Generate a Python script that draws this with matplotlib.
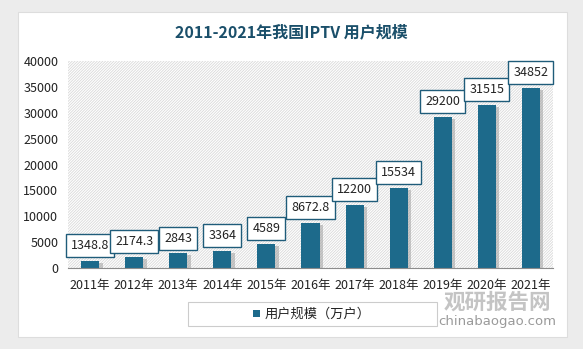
import matplotlib.pyplot as plt
import matplotlib.patheffects as pe
from matplotlib.patches import Rectangle

plt.rcParams['font.family'] = ['Noto Sans CJK SC', 'DejaVu Sans']
plt.rcParams['hatch.linewidth'] = 0.6
plt.rcParams['hatch.color'] = '#d9d9d9'

years = ['2011年', '2012年', '2013年', '2014年', '2015年', '2016年',
         '2017年', '2018年', '2019年', '2020年', '2021年']
users = [1348.8, 2174.3, 2843, 3364, 4589, 8672.8, 12200, 15534, 29200, 31515, 34852]
labels = ['1348.8', '2174.3', '2843', '3364', '4589', '8672.8',
          '12200', '15534', '29200', '31515', '34852']
yticks = [0, 5000, 10000, 15000, 20000, 25000, 30000, 35000, 40000]
series_name = '用户规模（万户）'

bar_color = '#1d6a8b'
dark = '#1a4f6a'

W, H = 583, 349
fig = plt.figure(figsize=(5.83, 3.49), dpi=100, facecolor='#ececec')

# white card
fig.add_artist(Rectangle((18 / W, 1 - 337 / H), (567 - 18) / W, (337 - 12) / H,
                         transform=fig.transFigure, facecolor='white',
                         edgecolor='#dddddd', lw=0.8, zorder=-5))

# watermark
fig.text(497 / W, 1 - 302 / H, '观研报告网', ha='center', va='center', fontsize=15.5,
         fontweight='bold', color='#c4c4c4', zorder=-1)
fig.text(497 / W, 1 - 322 / H, 'chinabaogao.com', ha='center', va='center', fontsize=9.5,
         color='#9a9a9a', family='DejaVu Sans', zorder=-1)

ax = fig.add_axes([68 / W, 1 - 268 / H, 485 / W, (268 - 61) / H])
ax.set_facecolor('none')
ax.add_patch(Rectangle((0, 0), 1, 1, transform=ax.transAxes, facecolor='white',
                       hatch='////////////', edgecolor='#d9d9d9', lw=0, zorder=0))

x = range(len(years))
ax.bar(x, users, width=0.41, color=bar_color, zorder=3,
       path_effects=[pe.SimplePatchShadow(offset=(2.5, -1.5), shadow_rgbFace='#999999', alpha=0.5),
                     pe.Normal()])

for xi, v, lab in zip(x, users, labels):
    ax.annotate(lab, (xi, v), xytext=(0, 11), textcoords='offset points',
                ha='center', va='center', fontsize=9, color='#222222', zorder=5,
                bbox=dict(boxstyle='square,pad=0.4', facecolor='white', edgecolor='#1f5c7a', lw=1))

ax.set_xlim(-0.5, 10.5)
ax.set_ylim(0, 40000)
ax.set_yticks(yticks)
ax.set_xticks(list(x))
ax.set_xticklabels(years)
ax.tick_params(axis='both', length=0, labelsize=9, colors='#222222')
ax.tick_params(axis='y', pad=7)
ax.tick_params(axis='x', pad=8)
for s in ['top', 'right', 'left']:
    ax.spines[s].set_visible(False)
ax.spines['bottom'].set_color('#8c8c8c')
ax.spines['bottom'].set_zorder(4)

fig.text(291 / W, 1 - 32 / H, '2011-2021年我国IPTV 用户规模', ha='center', va='center',
         fontsize=11.5, fontweight='bold', color=dark)

# legend box
fig.add_artist(Rectangle((188 / W, 1 - 326 / H), (437 - 188) / W, 24 / H,
                         transform=fig.transFigure, facecolor='white',
                         edgecolor='#cccccc', lw=0.8, zorder=2))
fig.add_artist(Rectangle((253 / W, 1 - 317 / H), 7 / W, 7 / H,
                         transform=fig.transFigure, facecolor=bar_color, lw=0, zorder=3))
fig.text(265 / W, 1 - 314 / H, series_name, ha='left', va='center', fontsize=9.5,
         color='#222222', zorder=3)

fig.savefig('out.png', dpi=100, facecolor=fig.get_facecolor())
